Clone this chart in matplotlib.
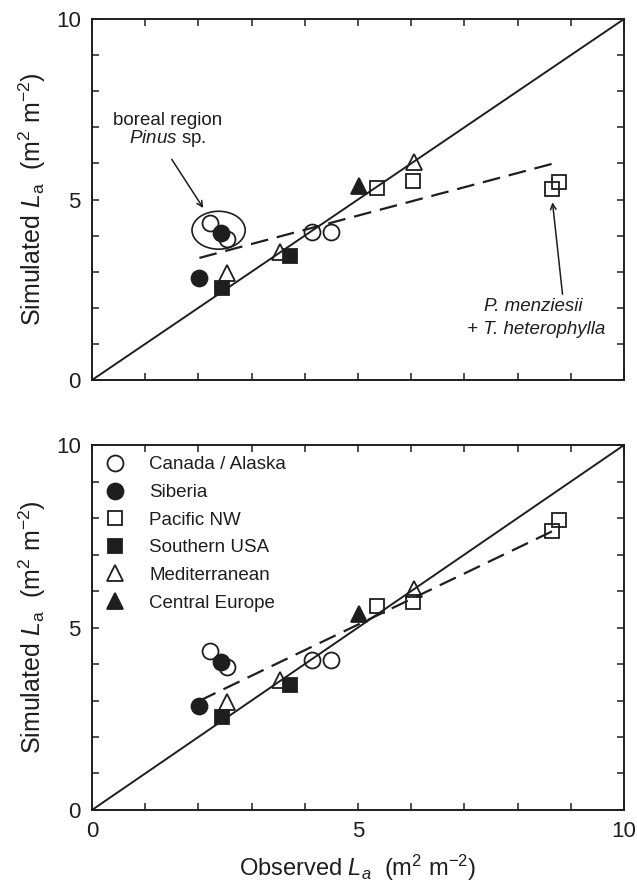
import numpy as np
import matplotlib.pyplot as plt
from matplotlib.patches import Ellipse
from matplotlib.ticker import MultipleLocator

plt.rcParams['font.family'] = ['Liberation Sans', 'DejaVu Sans']
plt.rcParams['mathtext.fontset'] = 'custom'
plt.rcParams['mathtext.rm'] = 'Liberation Sans'
plt.rcParams['mathtext.it'] = 'Liberation Sans:italic'

# observed / simulated leaf area (m2 m-2)
can_obs = [2.22, 2.53, 4.13, 4.50]
can_sim = [4.36, 3.92, 4.11, 4.11]
sib_obs = [2.42, 2.02]
sib_sim = [4.06, 2.84]
pnw_obs = [5.35, 6.04, 8.64, 8.77]
pnw_sim_a = [5.31, 5.52, 5.28, 5.49]
pnw_sim_b = [5.59, 5.71, 7.65, 7.96]
usa_obs = [2.44, 3.72]
usa_sim = [2.54, 3.43]
med_obs = [2.53, 3.53, 6.05]
med_sim = [2.97, 3.55, 6.05]
ceu_obs = [5.02]
ceu_sim = [5.37]

groups = ['Canada / Alaska', 'Siberia', 'Pacific NW', 'Southern USA',
          'Mediterranean', 'Central Europe']
markers = ['o', 'o', 's', 's', '^', '^']
filled = [False, True, False, True, False, True]
msizes = [11.5, 11.5, 10.5, 10.5, 11.5, 11.5]

ink = '#1e1e1e'


def panel(ax, pnw_sim, legend=False):
    obs = [can_obs, sib_obs, pnw_obs, usa_obs, med_obs, ceu_obs]
    sim = [can_sim, sib_sim, pnw_sim, usa_sim, med_sim, ceu_sim]
    ax.plot([0, 10], [0, 10], color=ink, lw=1.4, zorder=2)
    allx = np.concatenate([np.array(o) for o in obs])
    ally = np.concatenate([np.array(s) for s in sim])
    k, b = np.polyfit(allx, ally, 1)
    xf = np.array([allx.min(), allx.max()])
    ax.plot(xf, k * xf + b, color=ink, lw=1.6, dashes=(8, 4), zorder=2)
    for i in range(len(groups)):
        ax.plot(obs[i], sim[i], ls='none', marker=markers[i], ms=msizes[i],
                mec=ink, mew=1.3, mfc=ink if filled[i] else 'none',
                label=groups[i], zorder=3)
    ax.set_xlim(0, 10)
    ax.set_ylim(0, 10)
    ax.xaxis.set_major_locator(MultipleLocator(5))
    ax.yaxis.set_major_locator(MultipleLocator(5))
    ax.xaxis.set_minor_locator(MultipleLocator(1))
    ax.yaxis.set_minor_locator(MultipleLocator(1))
    ax.tick_params(which='both', direction='in', top=True, right=True,
                   length=5, width=1.1, color=ink)
    ax.tick_params(which='major', labelsize=16, pad=8, labelcolor=ink)
    for s in ax.spines.values():
        s.set_linewidth(1.4)
        s.set_color(ink)
    ax.set_ylabel(r'Simulated $\mathit{L}_\mathrm{a}$  (m$^2$ m$^{-2}$)',
                  fontsize=18, color=ink, labelpad=6)
    if legend:
        ax.legend(loc='upper left', frameon=False, fontsize=13.5,
                  handlelength=1.0, handletextpad=1.3, labelspacing=0.56,
                  borderaxespad=0.35, borderpad=0.25, labelcolor=ink,
                  bbox_to_anchor=(0.005, 1.0))


fig = plt.figure(figsize=(6.37, 8.9), dpi=100)
ax1 = fig.add_axes([0.1444, 0.573, 0.8352, 0.4056])
ax2 = fig.add_axes([0.1444, 0.0899, 0.8352, 0.410])

panel(ax1, pnw_sim_a)
ax1.tick_params(axis='x', labelbottom=False)
ax1.add_patch(Ellipse((2.38, 4.15), 1.0, 1.05, fill=False, ec=ink, lw=1.2))
ax1.annotate('', xy=(2.12, 4.7), xytext=(1.47, 6.18),
             arrowprops=dict(arrowstyle='->', color=ink, lw=1.1))
ax1.text(1.43, 7.2, 'boreal region', fontsize=13.5, ha='center',
         va='center', color=ink)
ax1.text(1.43, 6.68, r'$\mathit{Pinus}$ sp.', fontsize=13.5, ha='center',
         va='center', color=ink)
ax1.annotate('', xy=(8.65, 5.0), xytext=(8.85, 2.3),
             arrowprops=dict(arrowstyle='->', color=ink, lw=1.1))
ax1.text(8.3, 2.03, 'P. menziesii', fontsize=13.5, style='italic',
         ha='center', va='center', color=ink)
ax1.text(8.35, 1.39, '+ T. heterophylla', fontsize=13.5, style='italic',
         ha='center', va='center', color=ink)

panel(ax2, pnw_sim_b, legend=True)
ax2.set_xlabel(r'Observed $\mathit{L_a}$  (m$^2$ m$^{-2}$)', fontsize=17,
               color=ink, labelpad=8)

fig.savefig('out.png', dpi=100)
